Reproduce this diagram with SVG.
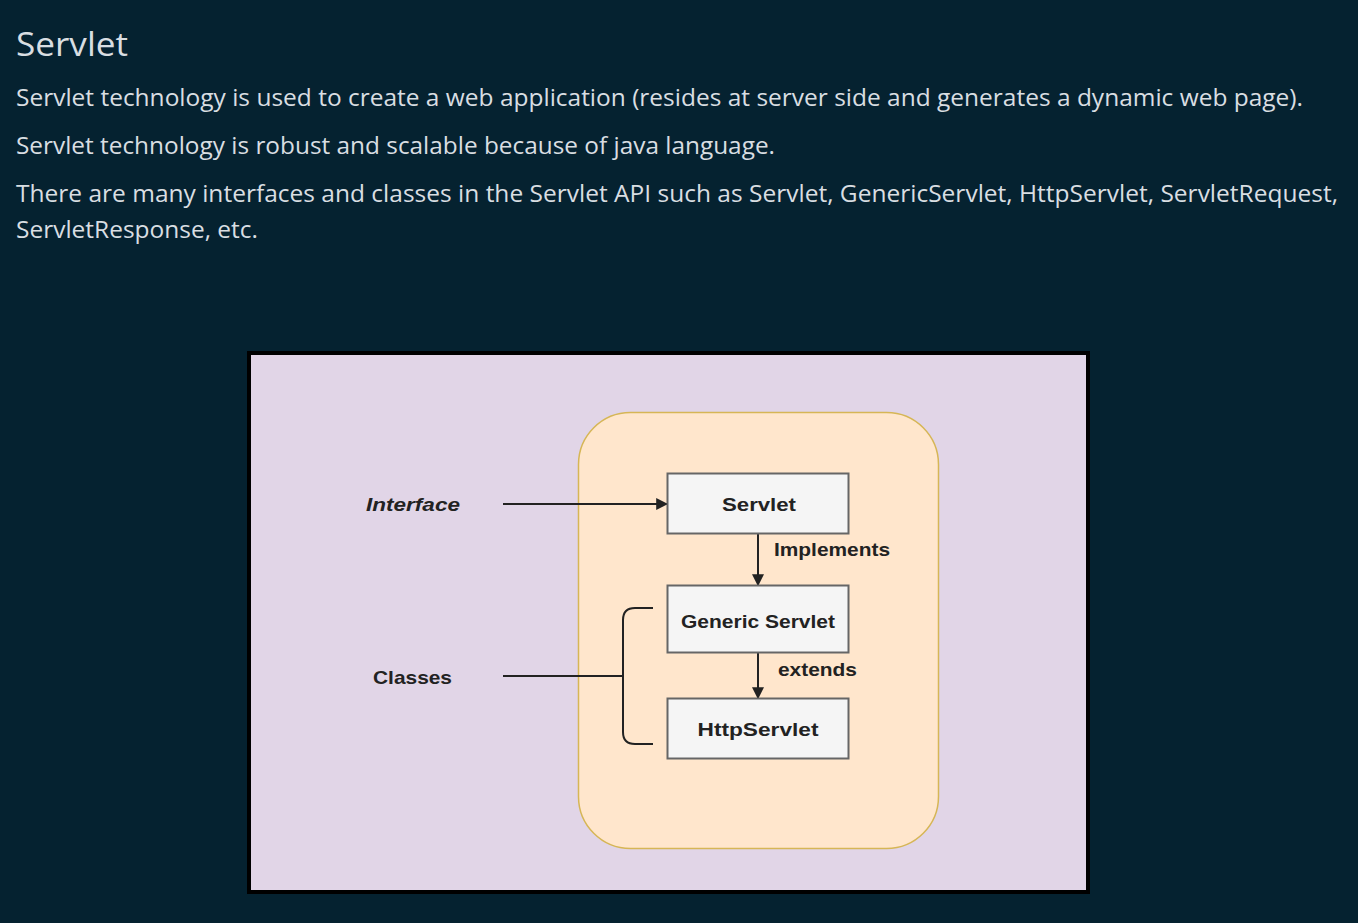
<svg xmlns="http://www.w3.org/2000/svg" width="1358" height="923" viewBox="0 0 1358 923">
<defs>
<style>
.p{font-family:"Open Sans","Liberation Sans",sans-serif;fill:#d9dee2;font-size:23px}
.t{font-family:"Liberation Sans",Arial,sans-serif;font-weight:bold;fill:#222;font-size:19px}
.box{fill:#f5f5f5;stroke:#666;stroke-width:2}
.ln{stroke:#222;stroke-width:2;fill:none}
</style>
<marker id="ah2" viewBox="0 0 10 10" refX="9" refY="5" markerWidth="12" markerHeight="12" orient="auto" markerUnits="userSpaceOnUse">
<path d="M0,0 L10,5 L0,10 Z" fill="#222"/>
</marker>
</defs>
<rect width="1358" height="923" fill="#052230"/>
<g id="text">
<text class="p" x="16" y="56" style="font-size:33px" textLength="112" lengthAdjust="spacingAndGlyphs">Servlet</text>
<text class="p" x="16" y="106" textLength="1287" lengthAdjust="spacingAndGlyphs">Servlet technology is used to create a web application (resides at server side and generates a dynamic web page).</text>
<text class="p" x="16" y="154" textLength="759" lengthAdjust="spacingAndGlyphs">Servlet technology is robust and scalable because of java language.</text>
<text class="p" x="16" y="202" textLength="1322" lengthAdjust="spacingAndGlyphs">There are many interfaces and classes in the Servlet API such as Servlet, GenericServlet, HttpServlet, ServletRequest,</text>
<text class="p" x="16" y="238" textLength="242" lengthAdjust="spacingAndGlyphs">ServletResponse, etc.</text>
</g>
<g id="frame">
<rect x="249" y="353" width="839" height="539" fill="#e1d5e7" stroke="#000" stroke-width="4"/>
</g>
<g id="container">
<rect x="578.5" y="412.5" width="360" height="436" rx="52" fill="#ffe6cc" stroke="#d6b656" stroke-width="1.5"/>
</g>
<g id="connectors">
<line class="ln" x1="503" y1="504" x2="667" y2="504" marker-end="url(#ah2)"/>
<line class="ln" x1="758" y1="534" x2="758" y2="585" marker-end="url(#ah2)"/>
<line class="ln" x1="758" y1="653" x2="758" y2="698" marker-end="url(#ah2)"/>
<line class="ln" x1="503" y1="676" x2="623" y2="676" stroke-width="2.5"/>
<path class="ln" d="M653,608 H635 Q623,608 623,620 V732 Q623,744 635,744 H653" stroke="#444" stroke-width="1.5"/>
</g>
<g id="interface-label">
<text class="t" x="366" y="511" font-style="italic" textLength="94" lengthAdjust="spacingAndGlyphs">Interface</text>
</g>
<g id="classes-label">
<text class="t" x="373" y="684" textLength="79" lengthAdjust="spacingAndGlyphs">Classes</text>
</g>
<g id="servlet">
<rect class="box" x="667.5" y="473.5" width="181" height="60"/>
<text class="t" x="759" y="511" text-anchor="middle" textLength="74" lengthAdjust="spacingAndGlyphs">Servlet</text>
</g>
<g id="generic-servlet">
<rect class="box" x="667.5" y="585.5" width="181" height="67"/>
<text class="t" x="758" y="628" text-anchor="middle" textLength="154" lengthAdjust="spacingAndGlyphs">Generic Servlet</text>
</g>
<g id="http-servlet">
<rect class="box" x="667.5" y="698.5" width="181" height="60"/>
<text class="t" x="758" y="736" text-anchor="middle" textLength="121" lengthAdjust="spacingAndGlyphs">HttpServlet</text>
</g>
<g id="edge-labels">
<text class="t" x="774" y="556" textLength="116" lengthAdjust="spacingAndGlyphs">Implements</text>
<text class="t" x="778" y="676" textLength="79" lengthAdjust="spacingAndGlyphs">extends</text>
</g>
</svg>
